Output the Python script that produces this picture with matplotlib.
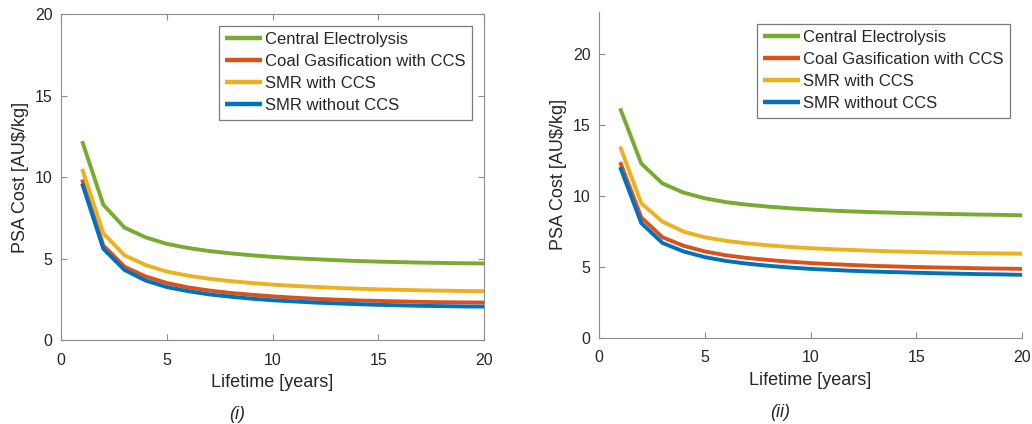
import numpy as np
import matplotlib
matplotlib.use('Agg')
import matplotlib.pyplot as plt

# 数据：寿命 1..20 年
years = list(range(1, 21))
labels = ['Central Electrolysis', 'Coal Gasification with CCS', 'SMR with CCS', 'SMR without CCS']
colors = ['#77AC30', '#D95319', '#EDB120', '#0072BD']

# (i)
elec_i = [12.2, 8.3, 6.9, 6.3, 5.9, 5.65, 5.46, 5.32, 5.2, 5.1, 5.02, 4.96, 4.9, 4.85, 4.81, 4.78, 4.75, 4.73, 4.71, 4.7]
coal_i = [9.85, 5.8, 4.5, 3.9, 3.5, 3.23, 3.04, 2.89, 2.78, 2.68, 2.6, 2.53, 2.48, 2.43, 2.4, 2.37, 2.34, 2.32, 2.31, 2.3]
smr_ccs_i = [10.5, 6.55, 5.2, 4.6, 4.2, 3.95, 3.76, 3.62, 3.5, 3.4, 3.32, 3.26, 3.2, 3.15, 3.11, 3.08, 3.05, 3.03, 3.01, 3.0]
smr_i = [9.6, 5.6, 4.3, 3.65, 3.25, 3.0, 2.8, 2.66, 2.54, 2.44, 2.37, 2.3, 2.25, 2.2, 2.16, 2.13, 2.1, 2.08, 2.06, 2.05]

# (ii)
elec_ii = [16.2, 12.3, 10.9, 10.25, 9.85, 9.58, 9.4, 9.26, 9.15, 9.06, 8.98, 8.92, 8.87, 8.83, 8.79, 8.76, 8.73, 8.7, 8.68, 8.65]
coal_ii = [12.4, 8.5, 7.1, 6.5, 6.1, 5.83, 5.64, 5.5, 5.38, 5.28, 5.2, 5.14, 5.08, 5.04, 5.0, 4.97, 4.94, 4.91, 4.89, 4.87]
smr_ccs_ii = [13.5, 9.5, 8.2, 7.5, 7.1, 6.85, 6.67, 6.53, 6.42, 6.33, 6.26, 6.2, 6.15, 6.1, 6.06, 6.03, 6.0, 5.98, 5.96, 5.94]
smr_ii = [12.05, 8.1, 6.7, 6.1, 5.7, 5.43, 5.24, 5.09, 4.97, 4.87, 4.8, 4.73, 4.68, 4.64, 4.6, 4.56, 4.53, 4.5, 4.48, 4.45]

plt.rcParams['font.family'] = ['Liberation Sans', 'DejaVu Sans']
TXT = '#262626'
SPINE = '#8c8c8c'


def draw(ax, series, ylim, yticks, box):
    # 按图例顺序画线
    for s, lab, c in zip(series, labels, colors):
        ax.plot(years, s, color=c, lw=2.8, label=lab, solid_capstyle='butt')
    ax.set_xlim(0, 20)
    ax.set_ylim(*ylim)
    ax.set_xticks([0, 5, 10, 15, 20])
    ax.set_yticks(yticks)
    ax.tick_params(direction='in', length=4, colors=SPINE, labelcolor=TXT,
                   labelsize=11.5, top=box, right=box)
    ax.tick_params(axis='x', pad=9)
    ax.tick_params(axis='y', pad=6)
    for side in ['left', 'bottom', 'top', 'right']:
        ax.spines[side].set_color(SPINE)
        ax.spines[side].set_linewidth(0.8)
    if not box:
        ax.spines['top'].set_visible(False)
        ax.spines['right'].set_visible(False)
    ax.set_xlabel('Lifetime [years]', fontsize=13, color=TXT, labelpad=5)
    ax.set_ylabel('PSA Cost [AU$/kg]', fontsize=13, color=TXT, labelpad=4)
    leg = ax.legend(loc='upper right', fontsize=12, fancybox=False, framealpha=1,
                    edgecolor='#7a7a7a', handlelength=2.2, handletextpad=0.2,
                    borderpad=0.4, labelspacing=0.42, borderaxespad=0.7)
    leg.get_frame().set_linewidth(0.9)
    for t in leg.get_texts():
        t.set_color(TXT)
    for h in leg.get_lines():
        h.set_linewidth(3.2)


fig = plt.figure(figsize=(10.32, 4.24), dpi=100)
ax1 = fig.add_axes([0.0591, 0.198, 0.410, 0.769])
ax2 = fig.add_axes([0.5804, 0.203, 0.410, 0.769])

draw(ax1, [elec_i, coal_i, smr_ccs_i, smr_i], (0, 20), [0, 5, 10, 15, 20], True)
draw(ax2, [elec_ii, coal_ii, smr_ccs_ii, smr_ii], (0, 23), [0, 5, 10, 15, 20], False)

fig.text(0.230, 0.012, '(i)', fontsize=13, style='italic', color=TXT, ha='center')
fig.text(0.756, 0.017, '(ii)', fontsize=13, style='italic', color=TXT, ha='center')

plt.savefig('out.png', dpi=100)
plt.close(fig)
